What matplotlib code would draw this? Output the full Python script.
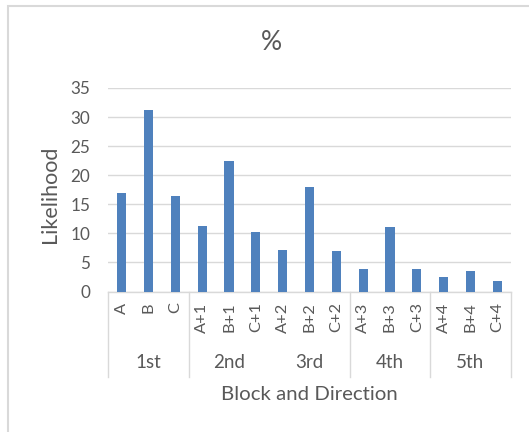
import matplotlib
matplotlib.use("Agg")
import matplotlib.pyplot as plt
from matplotlib.patches import Rectangle
from matplotlib.lines import Line2D

plt.rcParams['font.family'] = ['Lato', 'DejaVu Sans']

# ---- data ----
directions = ['A', 'B', 'C', 'A+1', 'B+1', 'C+1', 'A+2', 'B+2', 'C+2',
              'A+3', 'B+3', 'C+3', 'A+4', 'B+4', 'C+4']
likelihood = [17.0, 31.2, 16.5, 11.2, 22.5, 10.3, 7.2, 17.9, 7.0,
              3.9, 11.1, 3.9, 2.5, 3.5, 1.8]
blocks = ['1st', '2nd', '3rd', '4th', '5th']
block_center_index = [1, 4, 7, 10, 13]
group_boundaries = [0, 3, 9, 12, 15]
yticks = [0, 5, 10, 15, 20, 25, 30, 35]

W, H = 529, 432
TXT = '#595959'
GRID = '#D9D9D9'
BAR = '#4F81BD'

fig = plt.figure(figsize=(W / 100, H / 100), dpi=100)

def fx(px):
    return px / W

def fy(py):
    return 1 - py / H

# chart border
fig.patches.append(Rectangle((fx(7.5), fy(440)), fx(540), 434 / H,
                             transform=fig.transFigure, fill=False,
                             edgecolor=GRID, linewidth=1.5))

left, right, top, bottom = 108.3, 510.7, 88, 291.5
ax = fig.add_axes([fx(left), fy(bottom), fx(right - left), (bottom - top) / H])

x = list(range(len(directions)))
ax.bar(x, likelihood, width=0.34, color=BAR, zorder=3)
ax.set_xlim(-0.5, len(directions) - 0.5)
ax.set_ylim(0, 35)
ax.set_yticks(yticks)
ax.set_yticklabels([str(v) for v in yticks], fontsize=12.3, color=TXT)
ax.tick_params(axis='y', length=0, pad=13)
ax.set_xticks([])
ax.grid(axis='y', color=GRID, linewidth=1, zorder=0)
for s in ['top', 'right', 'left']:
    ax.spines[s].set_visible(False)
ax.spines['bottom'].set_color(GRID)
ax.spines['bottom'].set_linewidth(1)

# category tick labels (rotated)
trans = ax.get_xaxis_transform()
label_y = (fy(302.5) - fy(bottom)) / ((bottom - top) / H)
for i, lab in enumerate(directions):
    ax.text(i, label_y, lab, rotation=90, ha='center', va='top',
            fontsize=11.8, color=TXT, transform=trans)

# group separators
for b in group_boundaries:
    xb = fx(left + (right - left) * b / len(directions))
    fig.add_artist(Line2D([xb, xb], [fy(bottom), fy(377)], color=GRID,
                          linewidth=1, transform=fig.transFigure))

# block labels
for lab, ci in zip(blocks, block_center_index):
    xc = fx(left + (right - left) * (ci + 0.5) / len(directions))
    fig.text(xc, fy(363), lab, ha='center', va='center', fontsize=13.5, color=TXT)

fig.text(fx(309), fy(394.5), 'Block and Direction', ha='center', va='center',
         fontsize=14.7, color=TXT)
fig.text(fx(49.5), fy(194), 'Likelihood', ha='center', va='center',
         rotation=90, fontsize=15.5, color=TXT)
fig.text(fx(271.5), fy(42.5), '%', ha='center', va='center', fontsize=19, color=TXT)

fig.savefig('out.png', dpi=100)
